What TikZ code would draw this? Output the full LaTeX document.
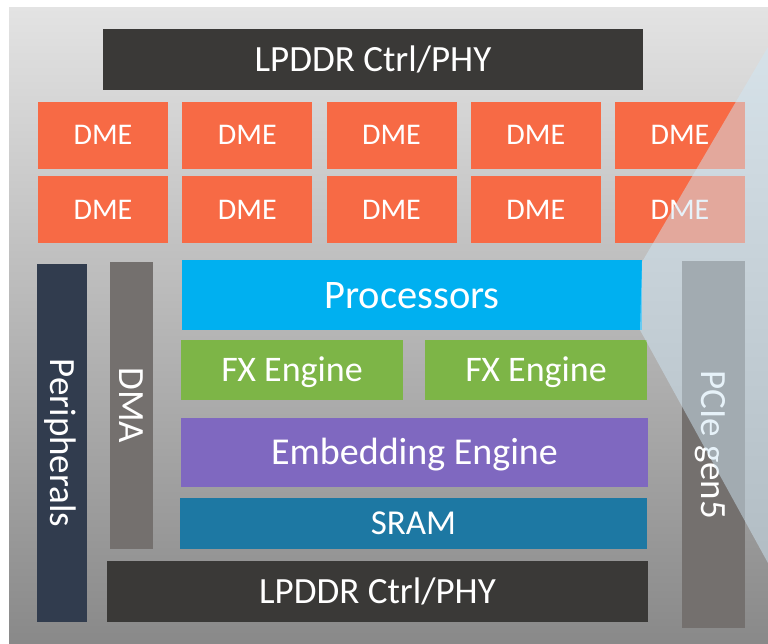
\documentclass[tikz,border=0pt]{standalone}
\usepackage{fontspec}
\setmainfont{Carlito}
\definecolor{ctrl}{HTML}{3A3937}
\definecolor{dme}{HTML}{F76A45}
\definecolor{periph}{HTML}{313C4E}
\definecolor{dmagray}{HTML}{74706E}
\definecolor{proc}{HTML}{00B0F0}
\definecolor{fx}{HTML}{7DB547}
\definecolor{embed}{HTML}{7F68C0}
\definecolor{sram}{HTML}{1D78A3}
\definecolor{glare}{HTML}{D0E6F4}
\definecolor{bgtop}{HTML}{E3E3E3}
\definecolor{bgmid}{HTML}{C0C0C0}
\definecolor{bgbot}{HTML}{898989}
% caps are centred in each block: text height = cap height, no depth
\tikzset{
  blk/.style={rectangle, inner sep=0pt, outer sep=0pt, text=white,
    font=\fontsize{37}{40}\selectfont, text height=24pt, text depth=0pt},
  dmebox/.style={blk, fill=dme, minimum width=130pt, minimum height=67pt,
    font=\fontsize{30}{32}\selectfont, text height=19.5pt},
  vert/.style={blk, rotate=-90},
}
\begin{document}
\begin{tikzpicture}[x=1pt, y=-1pt]
\useasboundingbox (0,0) rectangle (768,643);
% die background
\shade[top color=bgtop, middle color=bgmid, bottom color=bgbot] (9,7) rectangle (768,643);

% memory interface, top
\node[blk, fill=ctrl, minimum width=540pt, minimum height=61pt] (lpTop) at (373,59.5) {LPDDR Ctrl/PHY};

% DME array, two rows of five
\foreach \i/\x in {1/103, 2/247.3, 3/391.5, 4/535.8, 5/680}{
  \node[dmebox] (dmeA\i) at (\x,135) {DME};
  \node[dmebox] (dmeB\i) at (\x,209.5) {DME};
}

% side blocks
\node[vert, fill=periph, minimum width=358pt, minimum height=50pt] (periph) at (62,443) {Peripherals};
\node[vert, fill=dmagray, minimum width=287pt, minimum height=43pt] (dma) at (131.5,405.5) {DMA};
\node[vert, fill=dmagray, minimum width=367pt, minimum height=63pt] (pcie) at (713.5,444.5) {PCIe gen5};

% compute core
\node[blk, fill=proc, minimum width=460pt, minimum height=70pt, font=\fontsize{40.5}{44}\selectfont, text height=26pt] (procs) at (412,295) {Processors};
\node[blk, fill=fx, minimum width=222pt, minimum height=60pt, font=\fontsize{36}{40}\selectfont, text height=23pt] (fxA) at (292,370) {FX Engine};
\node[blk, fill=fx, minimum width=222pt, minimum height=60pt, font=\fontsize{36}{40}\selectfont, text height=23pt] (fxB) at (536,370) {FX Engine};
\node[blk, fill=embed, minimum width=467pt, minimum height=69pt, font=\fontsize{38}{40}\selectfont, text height=24.5pt] (emb) at (414.5,452.5) {Embedding Engine};
\node[blk, fill=sram, minimum width=467pt, minimum height=51pt, font=\fontsize{35}{38}\selectfont, text height=22.5pt] (sram) at (413.5,523.5) {SRAM};

% memory interface, bottom
\node[blk, fill=ctrl, minimum width=541pt, minimum height=61pt] (lpBot) at (377.5,591.5) {LPDDR Ctrl/PHY};

% light reflection across the right edge
\fill[glare, fill opacity=0.5] (768,47) -- (642,262) -- (640,330) -- (768,563) -- cycle;
\end{tikzpicture}
\end{document}
